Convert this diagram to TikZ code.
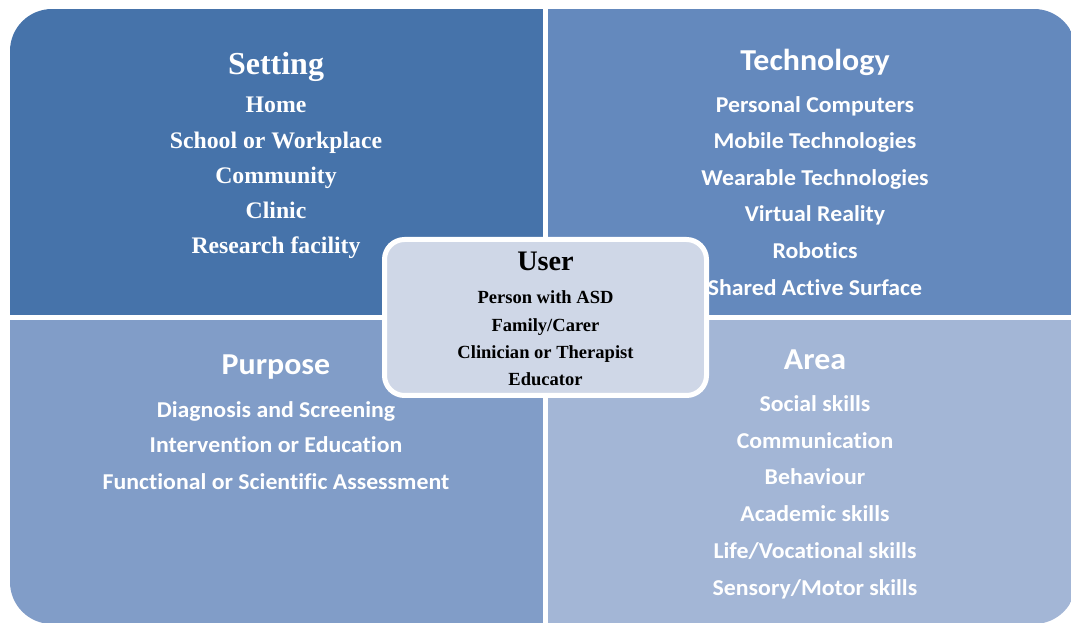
\documentclass[tikz,border=0pt]{standalone}
\usepackage{fontspec}
\setmainfont{Liberation Serif}
\newfontfamily\calibfont[FakeStretch=1.05, Ligatures=NoCommon]{Carlito}
\definecolor{qsetting}{RGB}{70,115,170}
\definecolor{qtech}{RGB}{100,137,189}
\definecolor{qpurpose}{RGB}{129,157,200}
\definecolor{qarea}{RGB}{163,182,214}
\definecolor{userfill}{RGB}{207,215,231}
\tikzset{
  serifhead/.style={text=white, anchor=base, inner sep=0pt, font=\bfseries\fontsize{24}{28}\selectfont},
  serifitem/.style={text=white, anchor=base, inner sep=0pt, font=\bfseries\fontsize{17.8}{21}\selectfont},
  sanshead/.style={text=white, anchor=base, inner sep=0pt, font=\calibfont\bfseries\fontsize{22.8}{26}\selectfont},
  sansitem/.style={text=white, anchor=base, inner sep=0pt, font=\calibfont\bfseries\fontsize{17}{20}\selectfont},
  userhead/.style={text=black, anchor=base, inner sep=0pt, font=\bfseries\fontsize{21.2}{25}\selectfont},
  useritem/.style={text=black, anchor=base, inner sep=0pt, font=\bfseries\fontsize{13.9}{16}\selectfont},
  userbox/.style={draw=white, line width=3.75pt, fill=userfill, rounded corners=15pt,
    minimum width=241.5pt, minimum height=117pt, inner sep=0pt},
}
\begin{document}
\begin{tikzpicture}[x=0.75pt, y=-0.75pt]
\useasboundingbox (0,0) rectangle (1071,623);

% four quadrants, outer corners rounded through a common clip
\begin{scope}
  \clip[rounded corners=31.5pt] (10,9) rectangle (1076,624);
  \fill[qsetting] (10,9) rectangle (543,315);
  \fill[qtech] (548,9) rectangle (1076,315);
  \fill[qpurpose] (10,320) rectangle (543,624);
  \fill[qarea] (548,320) rectangle (1076,624);
\end{scope}

% Setting
\node[serifhead] (s0) at (276,74.5) {Setting};
\node[serifitem] (s1) at (276,113) {Home};
\node[serifitem] (s2) at (276,148.5) {School or Workplace};
\node[serifitem] (s3) at (276,184) {Community};
\node[serifitem] (s4) at (276,218.5) {Clinic};
\node[serifitem] (s5) at (276,253.5) {Research facility};

% Technology
\node[sanshead] (t0) at (815,71) {Technology};
\node[sansitem] (t1) at (815,112.5) {Personal Computers};
\node[sansitem] (t2) at (815,149) {Mobile Technologies};
\node[sansitem] (t3) at (815,186) {Wearable Technologies};
\node[sansitem] (t4) at (815,222) {Virtual Reality};
\node[sansitem] (t5) at (815,259) {Robotics};
\node[sansitem] (t6) at (815,295.5) {Shared Active Surface};

% Purpose
\node[sanshead] (p0) at (276,375) {Purpose};
\node[sansitem] (p1) at (276,417) {Diagnosis and Screening};
\node[sansitem] (p2) at (276,452.5) {Intervention or Education};
\node[sansitem] (p3) at (276,489.5) {Functional or Scientific Assessment};

% Area
\node[sanshead] (a0) at (815,370) {Area};
\node[sansitem] (a1) at (815,411.5) {Social skills};
\node[sansitem] (a2) at (815,448.5) {Communication};
\node[sansitem] (a3) at (815,484.5) {Behaviour};
\node[sansitem] (a4) at (815,521.5) {Academic skills};
\node[sansitem] (a5) at (815,558.5) {Life/Vocational skills};
\node[sansitem] (a6) at (815,595.5) {Sensory/Motor skills};

% User box in the middle, over the quadrants
\node[userbox] (user) at (545.5,317.5) {};
\node[userhead] (u0) at (545.5,271) {User};
\node[useritem] (u1) at (545.5,304) {Person with ASD};
\node[useritem] (u2) at (545.5,331.5) {Family/Carer};
\node[useritem] (u3) at (545.5,358.5) {Clinician or Therapist};
\node[useritem] (u4) at (545.5,385.5) {Educator};
\end{tikzpicture}
\end{document}
